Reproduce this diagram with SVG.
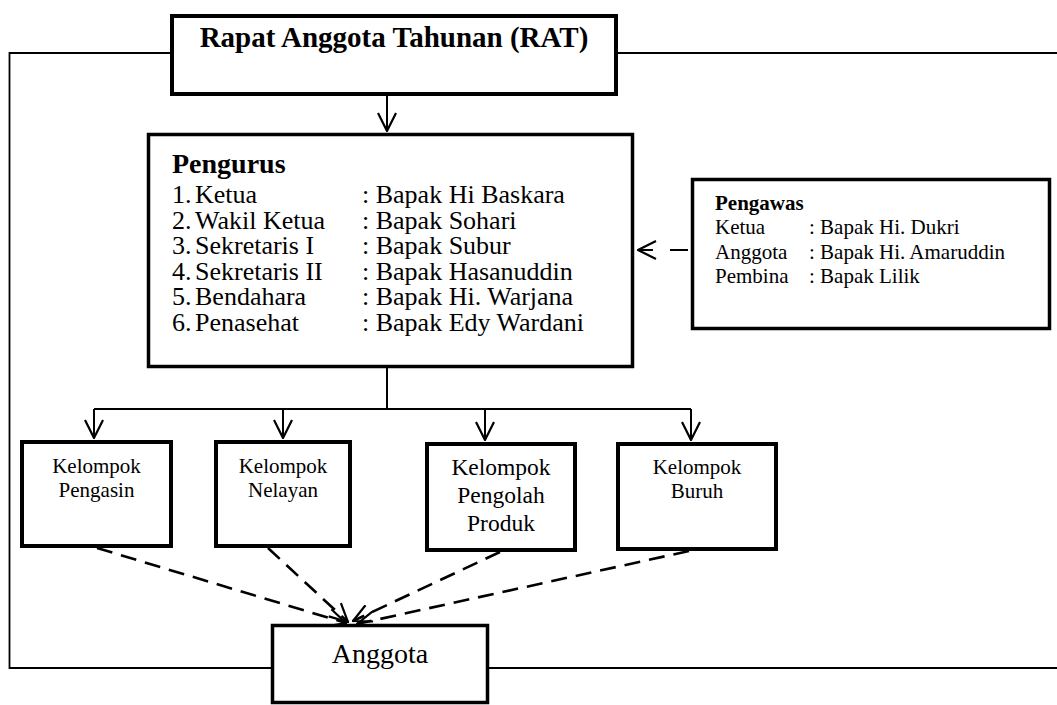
<svg xmlns="http://www.w3.org/2000/svg" width="1057" height="705" viewBox="0 0 1057 705">
<style>
  .box { fill: #ffffff; stroke: #000000; }
  .thick { stroke-width: 4; }
  .mid { stroke-width: 3.5; }
  .t { font-family: "Liberation Serif", "Times New Roman", serif; fill: #000000; }
  .b { font-weight: bold; }
  .line { fill: none; stroke: #000000; stroke-width: 2; }
  .frame { fill: none; stroke: #000000; stroke-width: 1.8; }
  .dash { fill: none; stroke: #000000; stroke-width: 2.6; stroke-dasharray: 16 9; }
</style>
<defs>
  <marker id="arr" viewBox="0 0 20 20" refX="19" refY="10" markerWidth="20" markerHeight="20" markerUnits="userSpaceOnUse" orient="auto">
    <path d="M1,1 L19,10 L1,19" fill="none" stroke="#000000" stroke-width="2.2"/>
  </marker>
</defs>
<rect width="1057" height="705" fill="#ffffff"/>

<g id="connectors">
  <path class="frame" d="M172,53 H9.5 V668 H272"/>
  <path class="frame" d="M617,53 H1057"/>
  <path class="frame" d="M488,668 H1057"/>
  <path class="line" d="M387,96 V131" marker-end="url(#arr)"/>
  <path class="line" d="M387,368 V409"/>
  <path class="line" d="M94,409 H691"/>
  <path class="line" d="M94,409 V438" marker-end="url(#arr)"/>
  <path class="line" d="M283,409 V438" marker-end="url(#arr)"/>
  <path class="line" d="M485,409 V440" marker-end="url(#arr)"/>
  <path class="line" d="M691,409 V440" marker-end="url(#arr)"/>
  <path class="line" d="M688,250 H638" style="stroke-dasharray:18 17" marker-end="url(#arr)"/>
  <path class="dash" d="M97,548 L346,623" marker-end="url(#arr)"/>
  <path class="dash" d="M268,548 L348,622" marker-end="url(#arr)"/>
  <path class="dash" d="M500,552 L353,621" marker-end="url(#arr)"/>
  <path class="dash" d="M689,551 L357,624" marker-end="url(#arr)"/>
</g>

<g id="rat">
  <rect class="box thick" x="172" y="16" width="444" height="78"/>
  <text class="t b" x="394" y="47" font-size="29" text-anchor="middle">Rapat Anggota Tahunan (RAT)</text>
</g>

<g id="pengurus">
  <rect class="box mid" x="148.5" y="134.5" width="484" height="232"/>
  <text class="t b" x="172" y="173" font-size="28">Pengurus</text>
  <g class="t" font-size="26">
    <text y="203"><tspan x="172">1.</tspan><tspan x="195">Ketua</tspan><tspan x="362">: Bapak Hi Baskara</tspan></text>
    <text y="228.5"><tspan x="172">2.</tspan><tspan x="195">Wakil Ketua</tspan><tspan x="362">: Bapak Sohari</tspan></text>
    <text y="254"><tspan x="172">3.</tspan><tspan x="195">Sekretaris I</tspan><tspan x="362">: Bapak Subur</tspan></text>
    <text y="279.5"><tspan x="172">4.</tspan><tspan x="195">Sekretaris II</tspan><tspan x="362">: Bapak Hasanuddin</tspan></text>
    <text y="305"><tspan x="172">5.</tspan><tspan x="195">Bendahara</tspan><tspan x="362">: Bapak Hi. Warjana</tspan></text>
    <text y="330.5"><tspan x="172">6.</tspan><tspan x="195">Penasehat</tspan><tspan x="362">: Bapak Edy Wardani</tspan></text>
  </g>
</g>

<g id="pengawas">
  <rect class="box mid" x="692.5" y="179.5" width="357" height="149"/>
  <text class="t b" x="715" y="210" font-size="21">Pengawas</text>
  <g class="t" font-size="21">
    <text y="234"><tspan x="715">Ketua</tspan><tspan x="809">: Bapak Hi. Dukri</tspan></text>
    <text y="258.5"><tspan x="715">Anggota</tspan><tspan x="809">: Bapak Hi. Amaruddin</tspan></text>
    <text y="283"><tspan x="715">Pembina</tspan><tspan x="809">: Bapak Lilik</tspan></text>
  </g>
</g>

<g id="pengasin">
  <rect class="box thick" x="22" y="442" width="149" height="104"/>
  <text class="t" x="96.5" y="473" font-size="21" text-anchor="middle">Kelompok</text>
  <text class="t" x="96.5" y="497" font-size="21" text-anchor="middle">Pengasin</text>
</g>

<g id="nelayan">
  <rect class="box thick" x="216" y="442" width="134" height="104"/>
  <text class="t" x="283" y="473" font-size="21" text-anchor="middle">Kelompok</text>
  <text class="t" x="283" y="497" font-size="21" text-anchor="middle">Nelayan</text>
</g>

<g id="pengolah">
  <rect class="box thick" x="427" y="444" width="148" height="106"/>
  <text class="t" x="501" y="475" font-size="23.5" text-anchor="middle">Kelompok</text>
  <text class="t" x="501" y="503" font-size="23.5" text-anchor="middle">Pengolah</text>
  <text class="t" x="501" y="531" font-size="23.5" text-anchor="middle">Produk</text>
</g>

<g id="buruh">
  <rect class="box thick" x="618" y="444" width="158" height="105"/>
  <text class="t" x="697" y="474" font-size="21" text-anchor="middle">Kelompok</text>
  <text class="t" x="697" y="498" font-size="21" text-anchor="middle">Buruh</text>
</g>

<g id="anggota">
  <rect class="box mid" x="272.5" y="625.5" width="215" height="77"/>
  <text class="t" x="380" y="663" font-size="28" text-anchor="middle">Anggota</text>
</g>
</svg>
